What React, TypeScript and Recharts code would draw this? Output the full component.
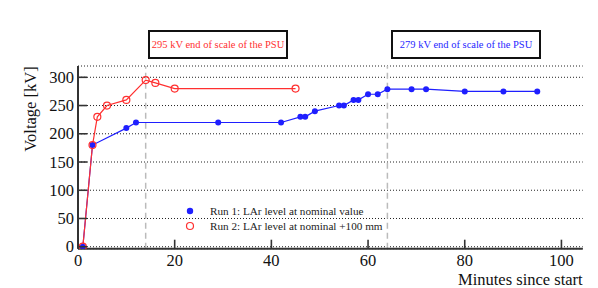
import React from "react";
import {
  LineChart,
  Line,
  XAxis,
  YAxis,
  CartesianGrid,
  ReferenceLine,
  Legend,
} from "recharts";

// Run 1: LAr level at nominal value
const run1Minutes = [1, 3, 10, 12, 29, 42, 46, 47, 49, 54, 55, 57, 58, 60, 62, 64, 69, 72, 80, 88, 95];
const run1Voltage = [0, 180, 210, 220, 220, 220, 230, 230, 240, 250, 250, 260, 260, 270, 270, 279, 279, 279, 275, 275, 275];

// Run 2: LAr level at nominal +100 mm
const run2Minutes = [1, 3, 4, 6, 10, 14, 16, 20, 45];
const run2Voltage = [0, 180, 230, 250, 260, 295, 290, 280, 280];

const xTicks = [0, 20, 40, 60, 80, 100];
const yTicks = [0, 50, 100, 150, 200, 250, 300];
const psuLimits = [14, 64];

const run1 = run1Minutes.map((t, i) => ({ t, kv: run1Voltage[i] }));
const run2 = run2Minutes.map((t, i) => ({ t, kv: run2Voltage[i] }));

const FONT = "Liberation Serif";
const AXIS = "#333";
const BLUE = "#1f1fff";
const RED = "#ff3030";
const TICK_LEN = 9;

const serif = (size: number): React.CSSProperties => ({ fontFamily: FONT, fontSize: size });

const BottomTick = ({ x, y, payload }: any) => (
  <g>
    <line x1={x} y1={y} x2={x} y2={y - TICK_LEN} stroke={AXIS} strokeWidth={1.6} />
    <text x={x} y={y + 17.3} textAnchor="middle" style={serif(16.5)} fill="#111">
      {payload.value}
    </text>
  </g>
);

const TopTick = ({ x, y }: any) => (
  <line x1={x} y1={y} x2={x} y2={y + TICK_LEN} stroke={AXIS} strokeWidth={1.6} />
);

const LeftTick = ({ x, y, payload }: any) => (
  <g>
    <line x1={x} y1={y} x2={x + TICK_LEN} y2={y} stroke={AXIS} strokeWidth={1.6} />
    <text x={x - 4} y={y + 5.5} textAnchor="end" style={serif(16.5)} fill="#111">
      {payload.value}
    </text>
  </g>
);

const RightTick = ({ x, y }: any) => (
  <line x1={x} y1={y} x2={x - TICK_LEN} y2={y} stroke={AXIS} strokeWidth={1.6} />
);

const BlueDot = ({ cx, cy }: any) => <circle cx={cx} cy={cy} r={3} fill={BLUE} />;
const RedDot = ({ cx, cy }: any) => (
  <circle cx={cx} cy={cy} r={3.5} fill="none" stroke={RED} strokeWidth={1.2} />
);

const LegendBox = () => (
  <svg width={240} height={34} style={{ overflow: "visible" }}>
    <circle cx={8} cy={8} r={3.2} fill={BLUE} />
    <text x={28} y={11.5} style={serif(11.2)} fill="#222">
      Run 1: LAr level at nominal value
    </text>
    <circle cx={8} cy={23} r={3.5} fill="none" stroke={RED} strokeWidth={1.2} />
    <text x={28} y={26.5} style={serif(11.2)} fill="#222">
      Run 2: LAr level at nominal +100 mm
    </text>
  </svg>
);

const noteStyle = (left: number, width: number, color: string): React.CSSProperties => ({
  position: "absolute",
  left,
  top: 30,
  width,
  height: 29,
  boxSizing: "border-box",
  border: "2px solid #111",
  display: "flex",
  alignItems: "center",
  justifyContent: "center",
  fontFamily: FONT,
  fontSize: 10.5,
  color,
  background: "#fff",
});

export default function App() {
  return (
    <div style={{ position: "absolute", left: 0, top: 0, width: 598, height: 288, background: "#fff" }}>
      <LineChart
        width={598}
        height={288}
        margin={{ top: 66, right: 15.3, bottom: 9.3, left: 38 }}
      >
        <CartesianGrid
          horizontal
          vertical={false}
          stroke="#222"
          strokeDasharray="1 2"
        />
        <XAxis
          type="number"
          dataKey="t"
          domain={[0, 104.4]}
          ticks={xTicks}
          allowDataOverflow
          height={30}
          tickSize={0}
          tickMargin={0}
          tickLine={false}
          tick={<BottomTick />}
          axisLine={{ stroke: AXIS, strokeWidth: 2 }}
          label={{
            value: "Minutes since start",
            position: "insideBottomRight",
            content: ({ viewBox }: any) => (
              <text
                x={viewBox.x + viewBox.width}
                y={viewBox.y + viewBox.height + 6.5}
                textAnchor="end"
                style={serif(16.5)}
                fill="#111"
              >
                Minutes since start
              </text>
            ),
          }}
        />
        <XAxis
          xAxisId="top"
          orientation="top"
          type="number"
          domain={[0, 104.4]}
          ticks={xTicks}
          allowDataOverflow
          height={0}
          tickSize={0}
          tickMargin={0}
          tickLine={false}
          tick={<TopTick />}
          axisLine={{ stroke: AXIS, strokeWidth: 2 }}
        />
        <YAxis
          type="number"
          domain={[-3.5, 320]}
          ticks={yTicks}
          allowDataOverflow
          width={40}
          tickSize={0}
          tickMargin={0}
          tickLine={false}
          tick={<LeftTick />}
          axisLine={{ stroke: AXIS, strokeWidth: 2 }}
          label={{
            value: "Voltage [kV]",
            position: "insideLeft",
            content: ({ viewBox }: any) => (
              <text
                x={30}
                y={viewBox.y + 43}
                transform={`rotate(-90, 30, ${viewBox.y + 43})`}
                textAnchor="middle"
                dominantBaseline="central"
                style={serif(16.5)}
                fill="#111"
              >
                Voltage [kV]
              </text>
            ),
          }}
        />
        <YAxis
          yAxisId="right"
          orientation="right"
          type="number"
          domain={[-3.5, 320]}
          ticks={yTicks}
          allowDataOverflow
          width={0}
          tickSize={0}
          tickMargin={0}
          tickLine={false}
          tick={<RightTick />}
          axisLine={{ stroke: AXIS, strokeWidth: 2 }}
        />
        {psuLimits.map((m) => (
          <ReferenceLine
            key={m}
            x={m}
            stroke="#bbb"
            strokeWidth={1.5}
            strokeDasharray="6 4"
          />
        ))}
        <Legend
          layout="vertical"
          verticalAlign="middle"
          align="center"
          wrapperStyle={{ left: 182, top: 203, width: 240 }}
          content={() => <LegendBox />}
        />
        <Line
          data={run1}
          dataKey="kv"
          type="linear"
          stroke={BLUE}
          strokeWidth={1.2}
          dot={<BlueDot />}
          activeDot={false}
          isAnimationActive={false}
        />
        <Line
          data={run2}
          dataKey="kv"
          type="linear"
          stroke={RED}
          strokeWidth={1.2}
          dot={<RedDot />}
          activeDot={false}
          isAnimationActive={false}
        />
      </LineChart>
      <div style={noteStyle(148, 140, RED)}>295 kV end of scale of the PSU</div>
      <div style={noteStyle(391, 150, BLUE)}>279 kV end of scale of the PSU</div>
    </div>
  );
}
